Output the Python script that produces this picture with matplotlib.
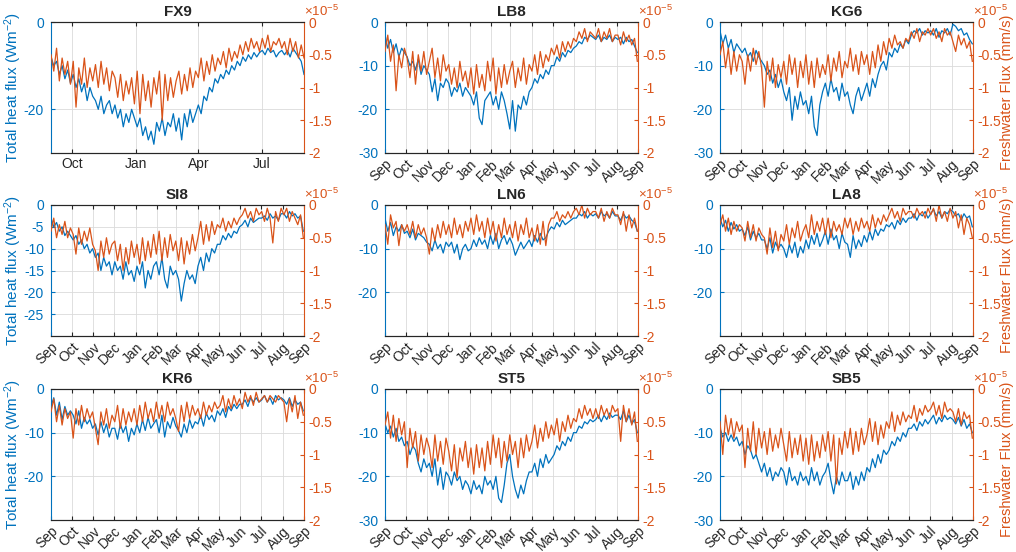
import matplotlib
matplotlib.use('Agg')
import matplotlib.pyplot as plt
import matplotlib.dates as mdates
import pandas as pd
from matplotlib.ticker import FuncFormatter

plt.rcParams['font.family'] = ['Liberation Sans', 'DejaVu Sans']
plt.rcParams['axes.unicode_minus'] = False
plt.rcParams['mathtext.fontset'] = 'custom'
plt.rcParams['mathtext.rm'] = 'Liberation Sans'
plt.rcParams['mathtext.it'] = 'Liberation Sans:italic'

BLUE = '#0072BD'
ORANGE = '#D95319'
DARK = '#262626'

# samples every 4 days, 1 Sep -> 31 Aug (92 values per series)
dates = pd.date_range('2014-09-01', periods=92, freq='4D')

stations = ['FX9', 'LB8', 'KG6', 'SI8', 'LN6', 'LA8', 'KR6', 'ST5', 'SB5']

# total heat flux (W m-2)
heat_FX9 = [-8, -10, -9, -12, -10, -13, -11, -14,
            -12, -15, -13, -16, -14, -18, -15, -17,
            -18, -20, -17, -21, -19, -18, -21,
            -19, -22, -20, -24, -21, -23, -20, -22,
            -24, -22, -26, -24, -27, -25, -28,
            -23, -25, -22, -26, -23, -24, -21, -25,
            -22, -27, -21, -24, -20, -23, -21,
            -19, -21, -17, -18, -15, -16, -13, -14,
            -12, -13, -11, -12, -10, -11, -9, -10,
            -8, -9, -7.5, -8.5, -7, -8, -7,
            -6.5, -7.5, -6, -7, -6.5, -8, -7, -6.5,
            -7.5, -6.5, -8, -6, -7, -8, -9, -12]
heat_LB8 = [-3, -6, -4, -7, -5, -8, -6, -7,
            -8, -10, -9, -11, -8.5, -12, -10, -11,
            -12, -16, -13, -18, -14, -15, -13,
            -14, -17, -15, -16, -14, -17, -15, -16,
            -17, -19, -16, -22, -23.5, -18, -17,
            -16, -19, -17, -20, -16, -18, -21, -24.5,
            -18, -25, -19, -20, -17, -19, -16,
            -15, -13, -14, -12, -13, -11, -12, -10,
            -10, -8, -9, -7, -8, -6.5, -7, -6,
            -5.5, -4.5, -5, -3.5, -4, -3, -3.5,
            -4, -3, -4.5, -3.5, -4, -3, -4.5, -3.5,
            -4, -3.5, -5, -3.5, -4.5, -4, -5.5, -7]
heat_KG6 = [-2, -5, -3, -6, -4, -7, -5, -6,
            -7, -6, -8, -7, -9, -6.5, -8, -9,
            -10, -12, -11, -14, -12, -15, -13,
            -16, -18, -15, -22.5, -17, -20, -16, -19,
            -18, -21, -17, -24, -26, -19, -16,
            -14, -17, -13, -16, -15, -18, -14, -17,
            -16, -19, -21, -17, -15, -18, -16,
            -14, -17, -13, -15, -12, -10, -9, -11,
            -7, -8, -6, -7, -5, -6, -4, -5,
            -3, -2, -2.5, -1.5, -3, -2, -2.5,
            -2, -3, -1.5, -3.5, -2, -2.5, -1.5, -3,
            -0.5, -1, -2, -1.5, -3, -2.5, -4, -5]
heat_SI8 = [-3, -5, -4, -6, -5, -7, -6, -7,
            -8, -7, -9, -8, -10, -9, -11, -10,
            -12, -11, -15, -12, -14, -13, -16,
            -13, -15, -14, -17, -13, -16, -15, -17.5,
            -14, -16, -13, -19, -15, -17, -14,
            -13, -16, -12, -17, -19, -14, -16, -15,
            -17, -22, -18, -15, -17, -16, -18,
            -14, -12, -15, -11, -13, -10, -11, -9,
            -9, -7, -8, -6.5, -7.5, -6, -6.5, -5,
            -4.5, -3.5, -5, -3, -4, -3.5, -3,
            -3, -2.5, -3.5, -2, -3, -2.5, -3.5, -2,
            -2, -3, -1.5, -2.5, -2, -3, -2.5, -6]
heat_LN6 = [-3, -6, -4, -7, -5, -6, -4.5, -6.5,
            -6, -7.5, -5.5, -8, -6.5, -7, -7.5, -8.5,
            -9, -10.5, -8, -10, -9, -11, -8.5,
            -9.5, -8.5, -11, -9, -12.5, -10, -9, -10.5,
            -10, -8, -9.5, -7.5, -9, -8, -10,
            -7, -9, -6.5, -10, -8, -7, -9, -7.5,
            -9, -11.5, -10, -8.5, -10, -9, -8,
            -9.5, -7, -8.5, -6.5, -8, -7.5, -6, -5,
            -5.5, -4, -5, -3.5, -4.5, -4, -3.5, -3,
            -3, -2, -2.5, -1.5, -3, -2, -2.5,
            -2, -3, -1.5, -2.5, -2, -3, -1.5, -2.5,
            -2.5, -3.5, -2, -3, -2.5, -3.5, -4, -6]
heat_LA8 = [-3, -5, -3.5, -6, -4, -5.5, -4.5, -6,
            -5.5, -7, -5, -8, -6, -7.5, -6.5, -8,
            -8, -10, -7.5, -11, -8.5, -10, -9,
            -10, -12, -9, -11, -8.5, -12, -9.5, -11,
            -8, -10, -7, -9, -6.5, -9.5, -8,
            -6, -9, -5.5, -8, -7, -10, -6.5, -8.5,
            -9, -12, -7, -10, -8, -9.5, -7,
            -8.5, -6, -8, -5.5, -7, -5.5, -6, -4.5,
            -5, -4, -5.5, -3.5, -4.5, -3, -4, -3,
            -3, -2, -3.5, -2, -2.5, -1.5, -3,
            -2, -1, -2.5, -1.5, -3, -1.5, -2, -1,
            -1.5, -2.5, -2, -3.5, -2, -3, -2.5, -5]
heat_KR6 = [-4, -2, -6, -3, -7, -4, -6, -5,
            -6, -8, -5, -9, -6.5, -8, -7, -9,
            -8, -10.5, -7.5, -10, -8, -11, -9,
            -9, -11.5, -8, -10, -8.5, -12, -9, -10.5,
            -8, -10, -7, -9.5, -6.5, -9, -8,
            -7, -10, -6, -11, -7.5, -9, -6.5, -8.5,
            -9.5, -11, -8, -10, -7, -9, -7.5,
            -8, -6, -8.5, -5.5, -7, -6, -7.5, -5,
            -6, -4.5, -6.5, -4, -5, -3.5, -4.5, -3.5,
            -3.5, -2.5, -4, -2, -3, -2, -3,
            -2.5, -1.5, -3, -2, -3.5, -1.5, -2.5, -2,
            -2.5, -3.5, -2, -4, -2.5, -3.5, -3, -5]
heat_ST5 = [-8, -10, -8.5, -11, -9, -12, -11, -13,
            -12, -15, -13, -14, -17, -19, -16, -18,
            -17, -20, -16, -22, -18, -23, -19,
            -20, -22, -19, -21, -20, -23, -21, -22,
            -24, -21, -23, -22, -24, -20, -22,
            -21, -23, -20, -25, -26, -22, -17, -15,
            -20, -23, -25, -22, -24, -21, -19,
            -19, -17, -20, -16, -18, -15, -17, -16,
            -15, -13, -14, -12, -13, -11, -12, -10,
            -10, -8.5, -9, -7.5, -8, -7, -7.5,
            -7, -6, -7.5, -6, -7, -5.5, -6.5, -6,
            -6, -7, -5, -7.5, -6, -8, -7, -10]
heat_SB5 = [-9, -11, -10, -12, -10.5, -12, -11, -13,
            -12, -15, -13, -14, -16, -15, -17, -19,
            -17, -20, -18, -21, -19, -20, -18,
            -19, -22, -18, -21, -20, -22, -19, -21,
            -20, -22, -18, -21, -19, -22, -20,
            -19, -17, -21, -24, -20, -22, -19, -21,
            -21, -19, -23, -20, -22, -19, -21,
            -18, -19, -16, -18, -15, -17, -14, -15,
            -14, -12, -13, -11, -12, -10, -11, -9,
            -9, -8, -9.5, -7.5, -8.5, -7, -8,
            -7, -6, -8, -6.5, -7.5, -6, -7, -6.5,
            -7, -8, -6.5, -8.5, -7, -9, -8, -10]

# freshwater flux (x1e-5 mm/s)
fw_FX9 = [-0.5, -0.75, -0.4, -0.9, -0.55, -0.8, -0.6, -0.95,
          -0.6, -1.3, -0.7, -0.95, -0.55, -1.0, -0.7, -0.9,
          -0.65, -1.0, -0.6, -0.95, -0.7, -1.05, -0.75,
          -0.85, -1.15, -0.8, -1.2, -0.9, -1.1, -0.85, -1.25,
          -0.75, -1.4, -0.8, -1.2, -0.9, -1.3, -0.85,
          -1.1, -0.75, -1.5, -0.8, -1.2, -0.85, -1.15, -0.9,
          -0.75, -1.1, -0.8, -1.05, -0.7, -1.0, -0.75,
          -0.85, -0.55, -0.9, -0.6, -0.8, -0.5, -0.75, -0.55,
          -0.65, -0.45, -0.7, -0.4, -0.6, -0.45, -0.55, -0.35,
          -0.5, -0.3, -0.45, -0.25, -0.4, -0.3, -0.45,
          -0.25, -0.4, -0.2, -0.45, -0.3, -0.35, -0.25, -0.4,
          -0.3, -0.5, -0.25, -0.45, -0.3, -0.55, -0.35, -0.55]
fw_LB8 = [-0.45, -0.2, -0.6, -0.35, -1.05, -0.5, -0.7, -0.4,
          -0.55, -0.85, -0.45, -0.95, -0.5, -0.75, -0.45, -0.8,
          -0.6, -0.4, -0.85, -0.55, -0.9, -0.5, -0.75,
          -0.65, -0.95, -0.7, -1.0, -0.6, -0.9, -0.75, -1.0,
          -0.7, -1.1, -0.65, -1.0, -0.8, -1.05, -0.6,
          -0.9, -0.55, -1.1, -0.7, -1.0, -0.65, -0.95, -0.75,
          -0.6, -1.0, -0.7, -0.9, -0.55, -0.95, -0.65,
          -0.75, -0.5, -0.8, -0.45, -0.7, -0.5, -0.6, -0.4,
          -0.5, -0.35, -0.55, -0.3, -0.45, -0.3, -0.4, -0.25,
          -0.3, -0.15, -0.25, -0.1, -0.3, -0.15, -0.2,
          -0.25, -0.1, -0.3, -0.15, -0.25, -0.1, -0.3, -0.2,
          -0.2, -0.35, -0.15, -0.3, -0.2, -0.35, -0.25, -0.6]
fw_KG6 = [-0.5, -0.3, -0.7, -0.4, -0.8, -0.45, -0.75, -0.5,
          -0.6, -0.95, -0.5, -0.75, -0.4, -0.65, -0.45, -0.7,
          -1.3, -0.6, -0.9, -0.55, -1.0, -0.65, -0.85,
          -0.6, -0.95, -0.5, -0.8, -0.55, -1.0, -0.6, -0.85,
          -0.5, -0.95, -0.6, -1.0, -0.55, -0.85, -0.65,
          -0.8, -0.5, -0.9, -0.55, -0.75, -0.45, -0.85, -0.6,
          -0.7, -0.4, -0.75, -0.5, -0.8, -0.45, -0.65,
          -0.5, -0.8, -0.45, -0.7, -0.35, -0.6, -0.3, -0.5,
          -0.25, -0.4, -0.2, -0.35, -0.3, -0.4, -0.25, -0.3,
          -0.15, -0.25, -0.1, -0.3, -0.15, -0.2, -0.1,
          -0.2, -0.1, -0.25, -0.15, -0.3, -0.1, -0.2, -0.15,
          -0.3, -0.45, -0.2, -0.35, -0.25, -0.4, -0.3, -0.6]
fw_SI8 = [-0.4, -0.2, -0.5, -0.3, -0.45, -0.25, -0.5, -0.35,
          -0.45, -0.75, -0.35, -0.6, -0.4, -0.55, -0.35, -0.6,
          -0.7, -1.0, -0.55, -0.8, -0.5, -0.75, -0.6,
          -0.55, -0.85, -0.6, -1.0, -0.65, -0.9, -0.55, -0.8,
          -0.6, -0.9, -0.5, -0.85, -0.55, -0.8, -0.45,
          -0.75, -0.4, -0.85, -0.5, -0.8, -0.45, -0.7, -0.55,
          -0.85, -0.5, -0.9, -0.55, -0.75, -0.45, -0.7,
          -0.5, -0.25, -0.6, -0.3, -0.55, -0.25, -0.45, -0.3,
          -0.35, -0.2, -0.4, -0.25, -0.35, -0.2, -0.3, -0.2,
          -0.15, -0.05, -0.2, -0.1, -0.25, -0.05, -0.15,
          -0.1, -0.25, -0.05, -0.2, -0.58, -0.1, -0.25, -0.05,
          -0.15, -0.05, -0.25, -0.1, -0.2, -0.3, -0.15, -0.5]
fw_LN6 = [-0.3, -0.6, -0.15, -0.35, -0.25, -0.62, -0.3, -0.4,
          -0.3, -0.45, -0.25, -0.5, -0.3, -0.45, -0.35, -0.5,
          -0.75, -0.35, -0.55, -0.3, -0.5, -0.25, -0.45,
          -0.3, -0.5, -0.2, -0.45, -0.3, -0.5, -0.25, -0.4,
          -0.2, -0.45, -0.15, -0.4, -0.25, -0.5, -0.2,
          -0.45, -0.25, -0.55, -0.3, -0.5, -0.2, -0.45, -0.3,
          -0.5, -0.25, -0.55, -0.3, -0.45, -0.2, -0.5,
          -0.35, -0.55, -0.3, -0.6, -0.25, -0.62, -0.3, -0.2,
          -0.2, -0.1, -0.25, -0.15, -0.2, -0.1, -0.2, -0.1,
          -0.05, -0.15, 0.0, -0.2, -0.05, -0.15, -0.1,
          -0.1, -0.2, -0.05, -0.25, -0.1, -0.2, -0.05, -0.15,
          -0.15, -0.3, -0.1, -0.4, -0.15, -0.35, -0.2, -0.4]
fw_LA8 = [-0.3, -0.15, -0.4, -0.2, -0.45, -0.25, -0.4, -0.3,
          -0.35, -0.55, -0.25, -0.5, -0.3, -0.55, -0.35, -0.45,
          -0.5, -0.75, -0.35, -0.65, -0.4, -0.7, -0.45,
          -0.55, -0.3, -0.6, -0.35, -0.5, -0.25, -0.55, -0.4,
          -0.3, -0.5, -0.15, -0.45, -0.25, -0.4, -0.2,
          -0.45, -0.2, -0.5, -0.25, -0.4, -0.3, -0.45, -0.2,
          -0.35, -0.2, -0.45, -0.25, -0.4, -0.2, -0.35,
          -0.25, -0.4, -0.15, -0.35, -0.2, -0.3, -0.15, -0.25,
          -0.15, -0.05, -0.2, -0.1, -0.25, -0.05, -0.15, -0.1,
          -0.1, -0.2, -0.05, -0.15, -0.1, -0.2, -0.05,
          -0.15, -0.05, -0.25, 0.0, -0.2, -0.1, -0.25, -0.05,
          -0.2, -0.1, -0.35, -0.15, -0.45, -0.2, -0.3, -0.5]
fw_KR6 = [-0.35, -0.15, -0.5, -0.25, -0.55, -0.3, -0.45, -0.35,
          -0.75, -0.3, -0.55, -0.25, -0.5, -0.3, -0.45, -0.35,
          -0.6, -0.85, -0.35, -0.55, -0.3, -0.6, -0.4,
          -0.5, -0.25, -0.6, -0.3, -0.55, -0.35, -0.5, -0.3,
          -0.55, -0.25, -0.5, -0.2, -0.45, -0.3, -0.5,
          -0.2, -0.45, -0.25, -0.5, -0.2, -0.4, -0.3, -0.45,
          -0.65, -0.25, -0.5, -0.2, -0.45, -0.25, -0.4,
          -0.3, -0.45, -0.2, -0.4, -0.25, -0.35, -0.2, -0.3,
          -0.25, -0.1, -0.35, -0.15, -0.3, -0.1, -0.25, -0.15,
          -0.3, -0.05, -0.2, -0.1, -0.25, -0.05, -0.2,
          -0.15, -0.1, -0.2, -0.1, -0.15, -0.2, -0.1, -0.15,
          -0.2, -0.5, -0.15, -0.35, -0.1, -0.45, -0.2, -0.4]
fw_ST5 = [-0.55, -0.35, -0.75, -0.4, -0.8, -0.45, -0.7, -0.5,
          -1.2, -0.6, -0.9, -0.65, -1.1, -0.7, -1.0, -0.75,
          -0.9, -1.2, -0.7, -1.1, -0.8, -1.15, -0.75,
          -0.95, -1.25, -0.85, -1.35, -0.9, -1.1, -0.8, -1.2,
          -0.9, -1.3, -0.85, -1.2, -0.9, -1.25, -0.8,
          -1.15, -0.7, -1.05, -0.75, -1.2, -0.8, -1.1, -0.7,
          -1.0, -0.8, -1.2, -0.75, -1.05, -0.7, -0.95,
          -0.8, -0.55, -0.9, -0.6, -0.8, -0.5, -0.75, -0.55,
          -0.7, -0.45, -0.8, -0.5, -0.65, -0.4, -0.6, -0.45,
          -0.5, -0.3, -0.45, -0.25, -0.4, -0.3, -0.45,
          -0.3, -0.45, -0.25, -0.4, -0.3, -0.45, -0.25, -0.35,
          -0.3, -0.8, -0.25, -0.5, -0.3, -0.55, -0.35, -0.8]
fw_SB5 = [-0.5, -1.0, -0.4, -0.7, -0.45, -0.75, -0.5, -0.65,
          -0.55, -1.2, -0.6, -0.95, -0.5, -1.0, -0.6, -0.9,
          -0.65, -1.0, -0.6, -0.95, -0.7, -0.9, -0.6,
          -0.85, -1.1, -0.65, -1.05, -0.75, -1.0, -0.7, -1.1,
          -0.75, -1.15, -0.7, -1.1, -0.8, -1.05, -0.7,
          -0.95, -0.65, -1.1, -0.7, -1.45, -0.75, -1.0, -0.65,
          -0.9, -0.6, -1.0, -0.65, -0.95, -0.6, -0.85,
          -0.7, -0.45, -0.8, -0.5, -0.85, -0.55, -0.75, -0.5,
          -0.6, -0.35, -0.65, -0.4, -0.55, -0.35, -0.5, -0.4,
          -0.45, -0.25, -0.5, -0.3, -0.4, -0.25, -0.35,
          -0.3, -0.2, -0.4, -0.25, -0.45, -0.2, -0.35, -0.3,
          -0.35, -0.5, -0.3, -0.55, -0.35, -0.45, -0.4, -0.75]

heat = {'FX9': heat_FX9, 'LB8': heat_LB8, 'KG6': heat_KG6, 'SI8': heat_SI8,
        'LN6': heat_LN6, 'LA8': heat_LA8, 'KR6': heat_KR6, 'ST5': heat_ST5,
        'SB5': heat_SB5}
fw = {'FX9': fw_FX9, 'LB8': fw_LB8, 'KG6': fw_KG6, 'SI8': fw_SI8,
      'LN6': fw_LN6, 'LA8': fw_LA8, 'KR6': fw_KR6, 'ST5': fw_ST5,
      'SB5': fw_SB5}

heat_ticks = {'FX9': [-20, 0],
              'LB8': [-30, -20, -10, 0], 'KG6': [-30, -20, -10, 0],
              'SI8': [-25, -20, -15, -10, -5, 0],
              'LN6': [-20, -10, 0], 'LA8': [-20, -10, 0], 'KR6': [-20, -10, 0],
              'ST5': [-30, -20, -10, 0], 'SB5': [-30, -20, -10, 0]}
fw_ticks = [-2, -1.5, -1, -0.5, 0]

for s in stations:
    if len(heat[s]) != len(dates) or len(fw[s]) != len(dates):
        raise ValueError('%s: %d %d' % (s, len(heat[s]), len(fw[s])))

W, H = 1016, 552
col_x = [51, 385, 720]
row_top = [22, 205, 389]
aw, ah = 253, 131

fig = plt.figure(figsize=(W / 100, H / 100), dpi=100)
fmt = FuncFormatter(lambda v, p: '%g' % v)

for i, s in enumerate(stations):
    r, c = divmod(i, 3)
    ax = fig.add_axes([col_x[c] / W, 1 - (row_top[r] + ah) / H, aw / W, ah / H])
    ax.plot(dates, heat[s], color=BLUE, lw=0.9)
    ax.set_ylim(-30, 0)
    ax.set_yticks(heat_ticks[s])
    ax.yaxis.set_major_formatter(fmt)
    ax.grid(True, color='#DBDBDB', lw=0.6)
    ax.set_axisbelow(True)

    ax2 = ax.twinx()
    ax2.plot(dates, fw[s], color=ORANGE, lw=0.9)
    ax2.set_ylim(-2, 0)
    ax2.set_yticks(fw_ticks)
    ax2.yaxis.set_major_formatter(fmt)

    if s == 'FX9':
        ax.set_xlim(pd.Timestamp('2014-09-01'), pd.Timestamp('2015-08-31'))
        ax.xaxis.set_major_locator(mdates.MonthLocator(bymonth=[1, 4, 7, 10]))
        ax.xaxis.set_major_formatter(mdates.DateFormatter('%b'))
        plt.setp(ax.get_xticklabels(), rotation=0, ha='center')
    else:
        ax.set_xlim(pd.Timestamp('2014-09-01'), pd.Timestamp('2015-09-01'))
        ax.xaxis.set_major_locator(mdates.MonthLocator())
        ax.xaxis.set_major_formatter(mdates.DateFormatter('%b'))
        plt.setp(ax.get_xticklabels(), rotation=45, ha='right',
                 rotation_mode='anchor')

    ax.tick_params(axis='x', direction='in', top=True, length=3,
                   labelsize=10, labelcolor=DARK, color=DARK, pad=3)
    ax.tick_params(axis='y', direction='in', length=3, labelsize=10,
                   colors=BLUE, pad=5)
    ax2.tick_params(axis='y', direction='in', length=3, labelsize=10,
                    colors=ORANGE, pad=3)

    for sp in ['top', 'bottom']:
        ax.spines[sp].set_color(DARK)
        ax2.spines[sp].set_color(DARK)
    ax.spines['left'].set_color(BLUE)
    ax.spines['right'].set_visible(False)
    ax2.spines['left'].set_visible(False)
    ax2.spines['right'].set_color(ORANGE)

    ax.set_title(s, fontsize=11, fontweight='bold', color=DARK, pad=4)
    ax2.annotate(r'$\times$10$^{-5}$', xy=(1, 1), xycoords='axes fraction',
                 xytext=(0, 2.5), textcoords='offset points',
                 ha='left', va='bottom', color=ORANGE, fontsize=9.5)

    if c == 0:
        ax.set_ylabel('Total heat flux (Wm$^{-2}$)', color=BLUE, fontsize=11)
        ax.yaxis.set_label_coords(-0.105, 0.5)
    if c == 2:
        ax2.set_ylabel('Freshwater Flux (mm/s)', color=ORANGE, fontsize=10.5)
        ax2.yaxis.set_label_coords(1.105, 0.46)

fig.savefig('out.png', dpi=100)
